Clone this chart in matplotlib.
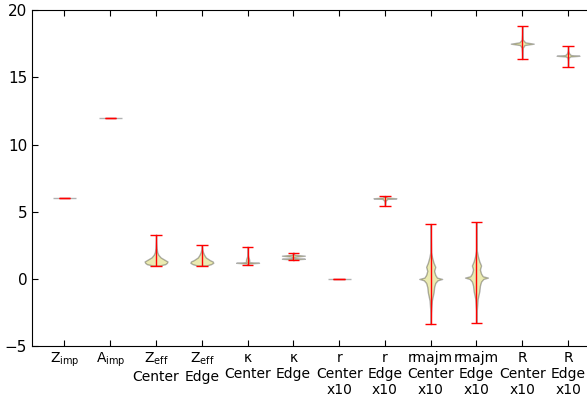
import matplotlib
matplotlib.use('Agg')
import matplotlib.pyplot as plt

labels = ['Z$_{\\rm imp}$', 'A$_{\\rm imp}$', 'Z$_{\\rm eff}$\nCenter', 'Z$_{\\rm eff}$\nEdge',
          '\u03ba\nCenter', '\u03ba\nEdge', 'r\nCenter\nx10', 'r\nEdge\nx10',
          'rmajm\nCenter\nx10', 'rmajm\nEdge\nx10', 'R\nCenter\nx10', 'R\nEdge\nx10']

# density profile of each violin: y values and relative density
zimp_y = [6.0, 6.0]
zimp_d = [1.0, 1.0]
aimp_y = [12.0, 12.0]
aimp_d = [1.0, 1.0]
zeffc_y = [1.0, 1.1, 1.2, 1.3, 1.4, 1.6, 1.8, 2.0, 2.3, 2.6, 3.0, 3.3]
zeffc_d = [0.3, 0.8, 0.95, 1.0, 0.8, 0.4, 0.2, 0.1, 0.05, 0.03, 0.01, 0.005]
zeffe_y = [1.0, 1.1, 1.2, 1.3, 1.4, 1.6, 1.8, 2.0, 2.2, 2.5]
zeffe_d = [0.4, 0.8, 1.0, 0.95, 0.7, 0.35, 0.2, 0.1, 0.04, 0.01]
kapc_y = [1.04, 1.15, 1.2, 1.25, 1.35, 1.5, 1.65, 1.8, 2.1, 2.4]
kapc_d = [0.02, 0.1, 1.0, 0.1, 0.15, 0.12, 0.05, 0.02, 0.01, 0.005]
kape_y = [1.39, 1.45, 1.5, 1.55, 1.65, 1.73, 1.8, 1.96]
kape_d = [0.02, 0.1, 1.0, 0.1, 0.1, 1.0, 0.1, 0.02]
rc_y = [0.0, 0.0]
rc_d = [1.0, 1.0]
re_y = [5.43, 5.6, 5.8, 5.95, 6.0, 6.05, 6.17]
re_d = [0.01, 0.02, 0.05, 0.2, 1.0, 0.2, 0.02]
rmc_y = [-3.37, -2.5, -1.6, -1.0, -0.6, -0.3, -0.1, 0.0, 0.1, 0.3, 0.6, 0.9, 1.2, 1.6, 2.0, 3.0, 4.1]
rmc_d = [0.0, 0.02, 0.1, 0.25, 0.3, 0.4, 0.6, 1.0, 0.55, 0.4, 0.3, 0.4, 0.25, 0.12, 0.03, 0.01, 0.0]
rme_y = [-3.25, -2.4, -1.5, -0.9, -0.5, -0.2, 0.0, 0.1, 0.2, 0.4, 0.7, 1.0, 1.3, 1.7, 2.1, 3.1, 4.2]
rme_d = [0.0, 0.02, 0.1, 0.25, 0.3, 0.4, 0.6, 1.0, 0.55, 0.4, 0.3, 0.4, 0.25, 0.12, 0.03, 0.01, 0.0]
Rc_y = [16.35, 16.8, 17.2, 17.4, 17.5, 17.6, 17.8, 18.2, 18.78]
Rc_d = [0.0, 0.01, 0.05, 0.2, 1.0, 0.25, 0.05, 0.01, 0.0]
Re_y = [15.8, 16.2, 16.45, 16.55, 16.6, 16.65, 16.8, 17.0, 17.3]
Re_d = [0.0, 0.01, 0.05, 0.2, 1.0, 0.25, 0.08, 0.02, 0.0]

profiles = [(zimp_y, zimp_d), (aimp_y, aimp_d), (zeffc_y, zeffc_d), (zeffe_y, zeffe_d),
            (kapc_y, kapc_d), (kape_y, kape_d), (rc_y, rc_d), (re_y, re_d),
            (rmc_y, rmc_d), (rme_y, rme_d), (Rc_y, Rc_d), (Re_y, Re_d)]


def make_stats(ys, ds):
    return {'coords': ys, 'vals': ds, 'mean': sum(ys) / len(ys),
            'median': ys[len(ys) // 2], 'min': min(ys), 'max': max(ys)}


vpstats = [make_stats(y, d) for y, d in profiles]
positions = list(range(1, len(labels) + 1))

fig = plt.figure(figsize=(5.87, 4.03), dpi=100)
ax = fig.add_axes([0.0545, 0.141, 0.96, 0.834])

parts = ax.violin(vpstats, positions=positions, widths=0.5, showextrema=True)
for body in parts['bodies']:
    body.set_facecolor('y')
    body.set_edgecolor('k')
    body.set_alpha(0.3)
for key in ['cmins', 'cmaxes', 'cbars']:
    parts[key].set_color('r')
    parts[key].set_linewidth(1.0)

ax.set_xlim(0.29, 12.6)
ax.set_ylim(-5, 20)
ax.set_yticks([-5, 0, 5, 10, 15, 20])
ax.set_xticks(positions)
ax.set_xticklabels(labels, fontsize=10, linespacing=1.2)
ax.tick_params(axis='y', labelsize=11)
ax.tick_params(direction='in', top=True, right=True, length=4)

fig.savefig('out.png', dpi=100)
